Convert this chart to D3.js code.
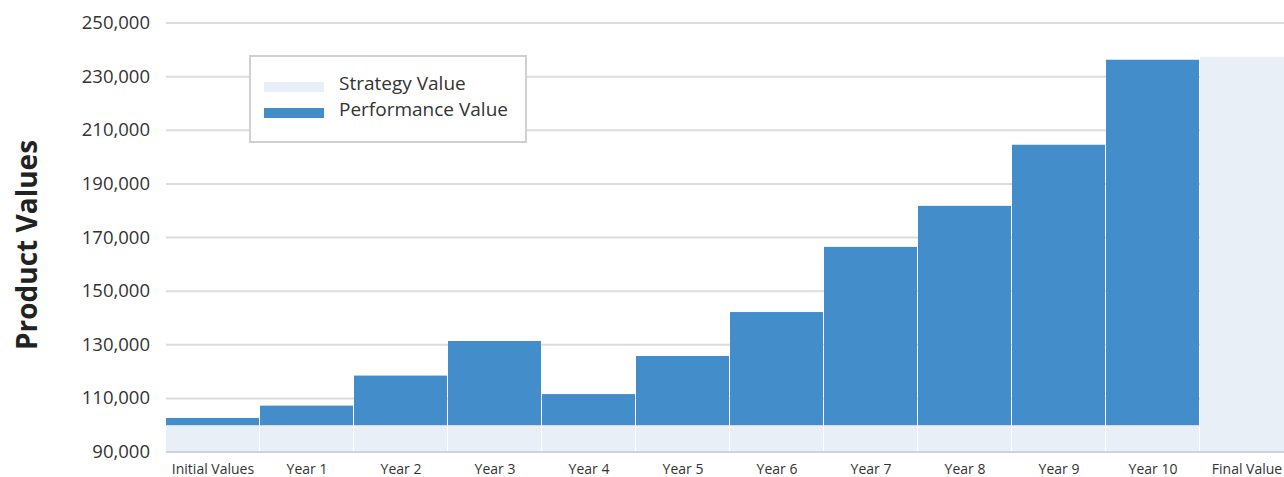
<!DOCTYPE html>
<html>
<head>
<meta charset="utf-8">
<script src="https://cdn.jsdelivr.net/npm/d3@7"></script>
<style>
  body { margin: 0; background: #fff; }
  svg { display: block; font-family: "Open Sans", "Lato", sans-serif; }
</style>
</head>
<body>
<div id="chart"></div>
<script>
// categories and values
const categories = ["Initial Values", "Year 1", "Year 2", "Year 3", "Year 4", "Year 5",
                    "Year 6", "Year 7", "Year 8", "Year 9", "Year 10", "Final Value"];
const strategyValues = [100000, 100000, 100000, 100000, 100000, 100000,
                        100000, 100000, 100000, 100000, 100000, 237400];
const performanceValues = [102700, 107300, 118500, 131400, 111600, 125800,
                           142200, 166500, 181800, 204600, 236300, null];
const yTicks = [90000, 110000, 130000, 150000, 170000, 190000, 210000, 230000, 250000];

const width = 1284, height = 477;

const svg = d3.select("#chart")
    .append("svg")
    .attr("width", width)
    .attr("height", height);

const x = d3.scaleBand()
    .domain(categories)
    .range([166, 1294])
    .padding(0);

const y = d3.scaleLinear()
    .domain([90000, 250000])
    .range([452, 23]);

// grid lines
svg.append("g")
    .selectAll("line")
    .data(yTicks.slice(1))
    .join("line")
    .attr("x1", 166)
    .attr("x2", width)
    .attr("y1", d => y(d))
    .attr("y2", d => y(d))
    .style("stroke", "#dcdcdc")
    .style("stroke-width", 2);

// y tick labels
svg.append("g")
    .selectAll("text")
    .data(yTicks)
    .join("text")
    .attr("x", 150)
    .attr("y", d => y(d))
    .attr("dy", 6)
    .attr("text-anchor", "end")
    .style("font-size", "18.5px")
    .style("fill", "#333")
    .text(d => d3.format(",")(d));

// strategy bars (light)
svg.append("g")
    .selectAll("rect")
    .data(categories)
    .join("rect")
    .attr("x", d => x(d))
    .attr("width", x.bandwidth() - 1)
    .attr("y", (d, i) => y(strategyValues[i]))
    .attr("height", (d, i) => y(90000) - y(strategyValues[i]))
    .style("fill", "#e8eff7");

// performance bars (blue)
const perf = categories.map((c, i) => ({ c: c, base: strategyValues[i], v: performanceValues[i] }))
    .filter(d => d.v !== null);

svg.append("g")
    .selectAll("rect")
    .data(perf)
    .join("rect")
    .attr("x", d => x(d.c))
    .attr("width", x.bandwidth() - 1)
    .attr("y", d => y(d.v))
    .attr("height", d => y(d.base) - y(d.v))
    .style("fill", "#438dca");

// baseline
svg.append("line")
    .attr("x1", 166)
    .attr("x2", width)
    .attr("y1", y(90000))
    .attr("y2", y(90000))
    .style("stroke", "#d0d3d6")
    .style("stroke-width", 2);

// x labels
svg.append("g")
    .selectAll("text")
    .data(categories)
    .join("text")
    .attr("x", d => x(d) + x.bandwidth() / 2)
    .attr("y", 474)
    .attr("text-anchor", "middle")
    .style("font-size", "14px")
    .style("fill", "#333")
    .text(d => d);

// y axis title
svg.append("text")
    .attr("transform", "translate(37,245) rotate(-90)")
    .attr("text-anchor", "middle")
    .style("font-size", "28px")
    .style("font-weight", "bold")
    .style("fill", "#222")
    .text("Product Values");

// legend
const legend = svg.append("g");

legend.append("rect")
    .attr("x", 250)
    .attr("y", 56)
    .attr("width", 276)
    .attr("height", 86)
    .style("fill", "#fff")
    .style("stroke", "#d0d0d0")
    .style("stroke-width", 2);

legend.append("rect")
    .attr("x", 264)
    .attr("y", 82)
    .attr("width", 60)
    .attr("height", 10)
    .style("fill", "#e8eff7");

legend.append("rect")
    .attr("x", 264)
    .attr("y", 108)
    .attr("width", 60)
    .attr("height", 10)
    .style("fill", "#438dca");

legend.append("text")
    .attr("x", 339)
    .attr("y", 90)
    .style("font-size", "19px")
    .style("fill", "#333")
    .text("Strategy Value");

legend.append("text")
    .attr("x", 339)
    .attr("y", 116)
    .style("font-size", "19px")
    .style("fill", "#333")
    .text("Performance Value");
</script>
</body>
</html>
